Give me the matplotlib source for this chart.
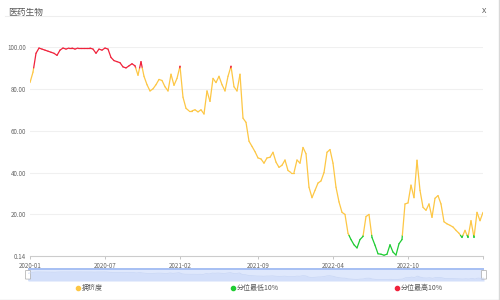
import numpy as np
import matplotlib
matplotlib.use("Agg")
import matplotlib.pyplot as plt
from matplotlib.collections import LineCollection
from matplotlib.patches import Rectangle, FancyBboxPatch

plt.rcParams['font.family'] = ['Noto Sans CJK SC', 'DejaVu Sans']

# percentile values, evenly spaced along the category axis
values = [
    83, 88, 97, 99.5, 99, 98.5, 98, 97.5, 97, 96,
    98.5, 99.5, 99, 99.5, 99.5, 99, 99.5, 99.5, 99.5, 99.5,
    99.5, 99, 97, 99, 98.5, 99.5, 99, 95, 93.5, 93,
    92.5, 90.5, 90, 91, 92, 91, 86.5, 93, 86, 82,
    79, 80, 82, 84.5, 84, 81, 79, 87, 81.7, 85,
    90.8, 76, 70.7, 69.5, 69.5, 70, 69, 70, 68, 79,
    74, 85, 83, 86, 82, 79, 86, 90.8, 81, 79,
    87, 66, 64, 55, 52.5, 50, 47, 46.5, 44.5, 47,
    47.3, 49.7, 45, 42.5, 43.5, 46, 41, 40, 40, 46,
    44.5, 52, 49, 33, 28, 31.5, 35, 36, 40, 49.7,
    51, 44.5, 33, 26, 21, 20, 11, 8, 5.5, 4,
    8, 9.5, 19, 20, 9, 5.3, 1.2, 1, 0.5, 1,
    5.5, 2, 0.6, 6, 8, 25, 25.5, 34, 28, 45.9,
    31.5, 23.4, 22, 25, 18.6, 27.7, 29, 25, 16.5, 15.5,
    14.8, 14, 12.4, 11, 9, 12.4, 9, 17, 9, 21,
    17, 21,
]
tick_labels = ['2020-01', '2020-07', '2021-02', '2021-09', '2022-04', '2022-10']
y_ticks = [0.14, 20, 40, 60, 80, 100]
title = '医药生物'
legend_names = ['拥挤度', '分位最低10%', '分位最高10%']

YELLOW = '#fdc745'
GREEN = '#1fcc33'
RED = '#f0233c'
LOW, HIGH = 10, 90

vals = np.array(values, dtype=float)
n = len(vals)
x = np.arange(n)


def band_color(v):
    if v >= HIGH:
        return RED
    if v <= LOW:
        return GREEN
    return YELLOW


# split each segment where it crosses a threshold so tips get their own colour
segs, cols = [], []
for i in range(n - 1):
    x0, y0, x1, y1 = x[i], vals[i], x[i + 1], vals[i + 1]
    cuts = [0.0, 1.0]
    for t in (LOW, HIGH):
        if (y0 - t) * (y1 - t) < 0:
            cuts.append((t - y0) / (y1 - y0))
    cuts.sort()
    for a, b in zip(cuts[:-1], cuts[1:]):
        pa = (x0 + a * (x1 - x0), y0 + a * (y1 - y0))
        pb = (x0 + b * (x1 - x0), y0 + b * (y1 - y0))
        segs.append([pa, pb])
        cols.append(band_color((pa[1] + pb[1]) / 2))

fig = plt.figure(figsize=(5, 3), dpi=100)
fig.patch.set_facecolor('white')

# title bar
fig.text(8 / 500, 1 - 12 / 300, title, fontsize=6.3, color='#555555', va='center', ha='left')
fig.text(484 / 500, 1 - 11 / 300, 'X', fontsize=5.5, color='#555555', va='center', ha='center')
fig.add_artist(plt.Line2D([5 / 500, 486 / 500], [1 - 16 / 300] * 2, color='#eeeeee', lw=0.8))
fig.add_artist(plt.Line2D([499 / 500] * 2, [0, 1], color='#d8d8d8', lw=1))
fig.add_artist(plt.Line2D([0, 1], [0.5 / 300] * 2, color='#d8d8d8', lw=1))

# main chart
ax = fig.add_axes([30 / 500, 1 - 256 / 300, 453 / 500, 209 / 300])
ax.set_xlim(0, n - 1)
ax.set_ylim(0.14, 100)
ax.add_collection(LineCollection(segs, colors=cols, linewidths=0.9, capstyle='round', joinstyle='round'))

for yv in y_ticks[1:]:
    ax.axhline(yv, color='#f0f0f0', lw=0.8, zorder=0)

ax.set_yticks(y_ticks)
ax.set_yticklabels([f'{v:.2f}' for v in y_ticks], fontsize=4.5, color='#666666')
tick_pos = [round(i * (n - 1) / 6) for i in range(6)]
ax.set_xticks(tick_pos + [n - 1])
ax.set_xticklabels(tick_labels + [''], fontsize=4.5, color='#666666')
ax.tick_params(axis='y', length=0, pad=3)
ax.tick_params(axis='x', length=2.5, width=0.6, color='#bbbbbb', pad=1.5)
for s in ['top', 'right', 'left']:
    ax.spines[s].set_visible(False)
ax.spines['bottom'].set_color('#cccccc')
ax.spines['bottom'].set_linewidth(0.8)

# data zoom slider
sax = fig.add_axes([28 / 500, 1 - 281 / 300, 456 / 500, 13 / 300])
sax.set_xlim(0, n - 1)
sax.set_ylim(0, 100)
sax.axis('off')
sax.add_patch(Rectangle((0, 0), n - 1, 100, color='#dfe8fc', lw=0))
sax.fill_between(x, 0, vals * 0.6 + 10, color='#d3dffa', lw=0)
sax.plot(x, vals * 0.6 + 10, color='#c8d6f5', lw=0.5)
sax.add_patch(Rectangle((0, 86), n - 1, 14, color='#a8c0f3', lw=0))
for hx in [0, n - 1]:
    sax.add_patch(FancyBboxPatch((hx - 0.6, 15), 1.2, 65, boxstyle='round,pad=0.2',
                                 fc='white', ec='#aaaaaa', lw=0.5, clip_on=False))

# legend
leg_y = 1 - 288 / 300
for name, col, lx in zip(legend_names, [YELLOW, GREEN, RED], [78, 233, 397]):
    fig.add_artist(plt.Line2D([lx / 500], [leg_y], marker='o', ms=3, color=col, lw=0))
    fig.text((lx + 4) / 500, leg_y, name, fontsize=5, color='#555555', va='center', ha='left')

fig.savefig('out.png', dpi=100)
